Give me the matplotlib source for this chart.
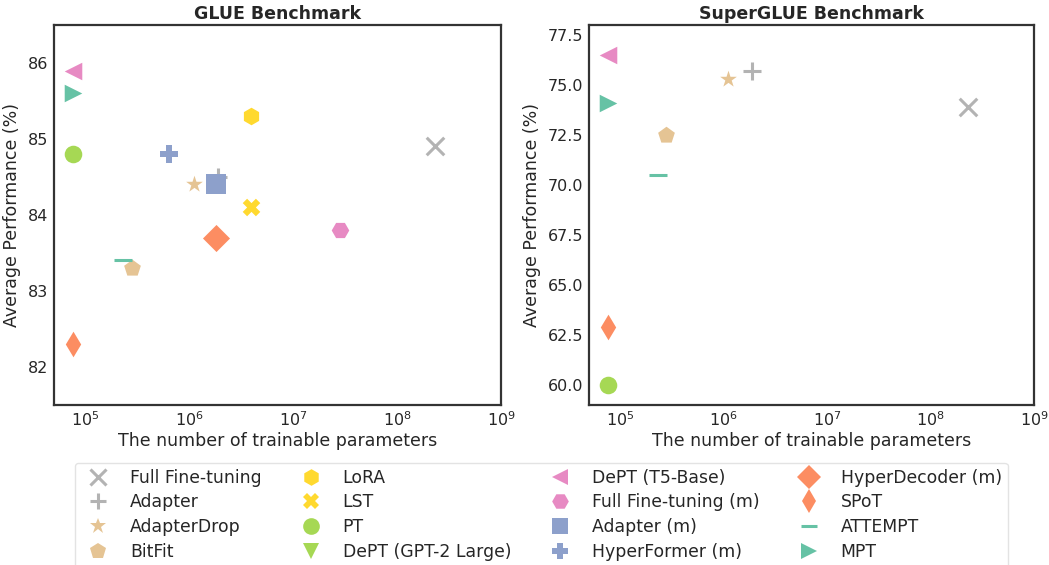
import matplotlib
matplotlib.use("Agg")
import matplotlib.pyplot as plt
from matplotlib.lines import Line2D
from matplotlib.ticker import FormatStrFormatter
import seaborn as sns

sns.set_style("white")
plt.rcParams["font.family"] = ["DejaVu Sans"]

# method styles (legend order, column-major)
methods = [
    "Full Fine-tuning", "Adapter", "AdapterDrop", "BitFit",
    "LoRA", "LST", "PT", "DePT (GPT-2 Large)",
    "DePT (T5-Base)", "Full Fine-tuning (m)", "Adapter (m)", "HyperFormer (m)",
    "HyperDecoder (m)", "SPoT", "ATTEMPT", "MPT",
]
markers = ["x", "+", "*", "p", "h", "X", "o", "v",
           "<", "H", "s", "P", "D", "d", "_", ">"]
pal = sns.color_palette("Set2")
colors = [pal[7], pal[7], pal[6], pal[6], pal[5], pal[5], pal[4], pal[4],
          pal[3], pal[3], pal[2], pal[2], pal[1], pal[1], pal[0], pal[0]]

# GLUE results: trainable params, average score
glue_methods = ["Full Fine-tuning", "Adapter", "AdapterDrop", "BitFit", "LoRA",
                "LST", "PT", "DePT (T5-Base)", "Full Fine-tuning (m)",
                "Adapter (m)", "HyperFormer (m)", "HyperDecoder (m)", "SPoT",
                "ATTEMPT", "MPT"]
glue_params = [2.3e8, 1.9e6, 1.1e6, 2.8e5, 3.9e6,
               3.9e6, 7.6e4, 7.6e4, 2.8e7,
               1.8e6, 6.4e5, 1.8e6, 7.6e4,
               2.3e5, 7.6e4]
glue_scores = [84.9, 84.5, 84.4, 83.3, 85.3,
               84.1, 84.8, 85.9, 83.8,
               84.4, 84.8, 83.7, 82.3,
               83.4, 85.6]

# SuperGLUE results
sg_methods = ["Full Fine-tuning", "Adapter", "AdapterDrop", "BitFit", "PT",
              "DePT (T5-Base)", "SPoT", "ATTEMPT", "MPT"]
sg_params = [2.3e8, 1.9e6, 1.1e6, 2.8e5, 7.6e4,
             7.6e4, 7.6e4, 2.3e5, 7.6e4]
sg_scores = [73.9, 75.7, 75.3, 72.5, 60.0,
             76.5, 62.9, 70.5, 74.1]

style = {m: (mk, c) for m, mk, c in zip(methods, markers, colors)}
sizes = {"HyperDecoder (m)": 190, "SPoT": 170, "Adapter (m)": 190}
lw_markers = {"x", "+", "_"}


def draw_panel(ax, names, params, scores, title, ylim, yticks):
    for name, x, y in zip(names, params, scores):
        mk, c = style[name]
        s = sizes.get(name, 160)
        if mk in lw_markers:
            ax.scatter(x, y, marker=mk, color=c, s=s, linewidths=2.2)
        else:
            ax.scatter(x, y, marker=mk, color=c, s=s, linewidths=0)
    ax.set_xscale("log")
    ax.set_xlim(5e4, 1e9)
    ax.set_ylim(*ylim)
    ax.set_yticks(yticks)
    ax.set_title(title, fontsize=12.5, fontweight="bold", pad=4)
    ax.set_xlabel("The number of trainable parameters", fontsize=12.5, labelpad=2)
    ax.set_ylabel("Average Performance (%)", fontsize=12.5, labelpad=5)
    ax.tick_params(labelsize=11.5, length=0, pad=4)
    for sp in ax.spines.values():
        sp.set_linewidth(1.6)
        sp.set_color("#333333")


fig = plt.figure(figsize=(10.49, 5.65), dpi=100)
ax1 = fig.add_axes([0.0515, 0.284, 0.4261, 0.6718])
ax2 = fig.add_axes([0.5615, 0.284, 0.4242, 0.6718])

draw_panel(ax1, glue_methods, glue_params, glue_scores, "GLUE Benchmark",
           (81.5, 86.5), [82, 83, 84, 85, 86])
draw_panel(ax2, sg_methods, sg_params, sg_scores, "SuperGLUE Benchmark",
           (59, 78), [60, 62.5, 65, 67.5, 70, 72.5, 75, 77.5])
ax2.yaxis.set_major_formatter(FormatStrFormatter("%.1f"))

handles = []
for m, mk, c in zip(methods, markers, colors):
    if mk in lw_markers:
        h = Line2D([], [], marker=mk, color=c, linestyle="none",
                   markersize=12, markeredgewidth=2.2)
    else:
        h = Line2D([], [], marker=mk, color=c, linestyle="none",
                   markersize=12, markeredgewidth=0)
    handles.append(h)

fig.legend(handles, methods, loc="lower center", bbox_to_anchor=(0.516, -0.004),
           borderaxespad=0, ncol=4, fontsize=12.4, frameon=True,
           edgecolor="#dddddd", handlelength=2.0, handletextpad=0.85,
           columnspacing=1.85, labelspacing=0.4, borderpad=0.35)

fig.savefig("out.png", dpi=100)
